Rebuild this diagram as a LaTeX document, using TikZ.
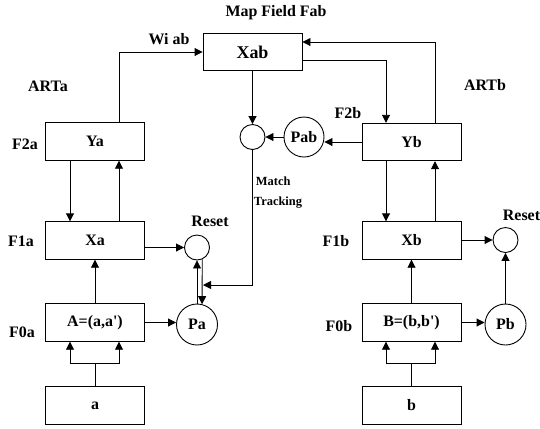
\documentclass[tikz,border=0pt]{standalone}
\usepackage{fontspec}
\setmainfont{Liberation Serif}
\usetikzlibrary{arrows.meta, positioning, calc}

\begin{document}
\begin{tikzpicture}[x=1bp, y=-1bp,
  layerbox/.style={draw, line width=0.9bp, minimum width=99bp, minimum height=37.5bp, inner sep=0pt, font=\fontsize{16}{18}\selectfont\bfseries},
  gatecirc/.style={draw, circle, line width=0.9bp, minimum size=25bp, inner sep=0pt},
  probecirc/.style={draw, circle, line width=0.9bp, minimum size=41bp, inner sep=0pt, font=\fontsize{16}{18}\selectfont\bfseries},
  lbl/.style={font=\fontsize{16}{18}\selectfont\bfseries},
  link/.style={-{Triangle[length=8bp, width=8bp]}, line width=0.9bp},
  plain/.style={line width=0.9bp},
]
\useasboundingbox (0,0) rectangle (540,428);
\def\dl{25bp}  % left lane offset
\def\ur{24bp}  % right lane offset

% Map field
\node[lbl] (mftitle) at (276,13) {Map Field Fab};
\node[layerbox, font=\fontsize{18}{20}\selectfont\bfseries] (Xab) at (252.5,52) {Xab};
\node[lbl] (wiab) at (169,39) {Wi ab};
\node[gatecirc] (match) at (252.5,137) {};
\node[probecirc, minimum size=40bp] (Pab) at (304,137) {Pab};
\node[align=left, font=\fontsize{12.5}{20}\selectfont\bfseries] (mtrack) at (278,193) {\,Match\\Tracking};

% === ARTa ===
\node[lbl] (arta) at (48,86) {ARTa};
\node[layerbox] (Ya) at (95,141.5) {Ya};
\node[layerbox] (Xa) at (95,240.5) {Xa};
\node[layerbox] (Aa) at (95,322.5) {A=(a,a\textquotesingle)};
\node[layerbox] (ina) at (95,405.5) {a};
\node[lbl] (f2a) at (25,144) {F2a};
\node[lbl] (f1a) at (21,241) {F1a};
\node[lbl] (f0a) at (22,332) {F0a};
\node[gatecirc] (resetA) at (197,247.5) {};
\node[lbl] (rsta) at (210,221) {Reset};
\node[probecirc] (Pa) at (197,324.5) {Pa};

% === ARTb ===
\node[lbl] (artb) at (485,85) {ARTb};
\node[layerbox] (Yb) at (411.5,142) {Yb};
\node[layerbox] (Xb) at (411.5,240.5) {Xb};
\node[layerbox] (Bb) at (411.5,322.5) {B=(b,b\textquotesingle)};
\node[layerbox] (inb) at (411.5,405.5) {b};
\node[lbl] (f2b) at (348,113) {F2b};
\node[lbl] (f1b) at (336,241) {F1b};
\node[lbl] (f0b) at (339,326) {F0b};
\node[gatecirc] (resetB) at (505.5,240) {};
\node[lbl] (rstb) at (521.5,215) {Reset};
\node[probecirc] (Pb) at (505.5,324.5) {Pb};

\coordinate (forka) at (95,363);
\coordinate (forkb) at (411.5,363);
\coordinate (mt) at (203,285);

% ARTa links
\draw[link] ([xshift=\ur]Ya.north) |- (Xab.west);
\draw[link] ([xshift=-\dl]Ya.south) -- ([xshift=-\dl]Xa.north);
\draw[link] ([xshift=\ur]Xa.north) -- ([xshift=\ur]Ya.south);
\draw[link] (Aa.north) -- (Xa.south);
\draw[link] (Xa.east |- resetA.west) -- (resetA.west);
\draw[link] (Aa.east) -- (Aa.east -| Pa.west);
\draw[link] (Pa.north) -- (resetA.south);
\draw[link] (resetA.-66) -- (Pa.76);
\draw[plain] (ina.north) -- (forka);
\draw[link] (forka) -| ([xshift=-\dl]Aa.south);
\draw[link] (forka) -| ([xshift=\ur]Aa.south);

% Map field links
\draw[link] (Xab.south) -- (match.north);
\draw[link] (Pab.west) -- (match.east);
\draw[link] (Yb.west) -- (Yb.west -| Pab.east);
\draw[link] (match.south) |- (mt);
\draw[link] ([yshift=-8bp]Xab.east) -| ([xshift=-25.5bp]Yb.north);
\draw[link] ([xshift=23.5bp]Yb.north) |- ([yshift=10bp]Xab.east);

% ARTb links
\draw[link] ([xshift=-25.5bp]Yb.south) -- ([xshift=-25.5bp]Xb.north);
\draw[link] ([xshift=23.5bp]Xb.north) -- ([xshift=23.5bp]Yb.south);
\draw[link] (Bb.north) -- (Xb.south);
\draw[link] (Xb.east |- resetB.west) -- (resetB.west);
\draw[link] (Bb.east) -- (Bb.east -| Pb.west);
\draw[link] (Pb.north) -- (resetB.south);
\draw[plain] (inb.north) -- (forkb);
\draw[link] (forkb) -| ([xshift=-25.5bp]Bb.south);
\draw[link] (forkb) -| ([xshift=23.5bp]Bb.south);
\end{tikzpicture}
\end{document}
